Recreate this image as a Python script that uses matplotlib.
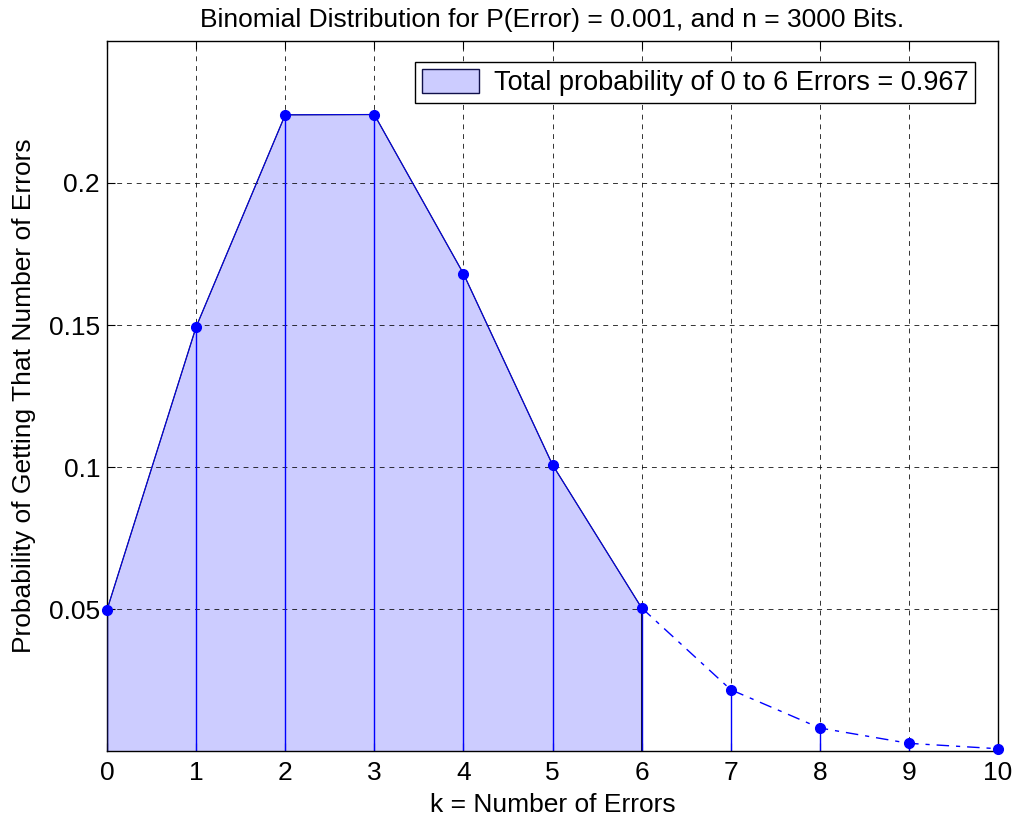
import matplotlib
matplotlib.use("Agg")
import matplotlib.pyplot as plt
from matplotlib.patches import Patch

plt.rcParams['font.family'] = ['Liberation Sans', 'DejaVu Sans']

k_vals = [0, 1, 2, 3, 4, 5, 6, 7, 8, 9, 10]
prob_vals = [0.0497, 0.1493, 0.2240, 0.2241, 0.1681, 0.1008, 0.0504, 0.0216, 0.0081, 0.0027, 0.0008]
shade_upto = 6
title_text = "Binomial Distribution for P(Error) = 0.001, and n = 3000 Bits."
legend_text = "Total probability of 0 to 6 Errors = 0.967"
xlabel_text = "k = Number of Errors"
ylabel_text = "Probability of Getting That Number of Errors"
y_ticks = [0.05, 0.1, 0.15, 0.2]
y_tick_labels = ["0.05", "0.1", "0.15", "0.2"]

fig = plt.figure(figsize=(10.13, 8.22), dpi=100)
ax = fig.add_axes([107/1013, 1-751/822, (998-107)/1013, (751-41)/822])

ks = k_vals[:shade_upto+1]
ps = prob_vals[:shade_upto+1]
ax.fill_between(ks, ps, 0, facecolor='#ccccff', edgecolor='none', zorder=1)
ax.plot([ks[0]] + ks + [ks[-1]], [0] + ps + [0], color='#10104a', lw=0.9, zorder=3)
ax.plot(ks, ps, color='blue', lw=0.6, zorder=3)
ax.vlines(k_vals, 0, prob_vals, colors='blue', lw=1.0, zorder=2)
ax.plot(k_vals[shade_upto:], prob_vals[shade_upto:], color='blue', lw=1.0,
        linestyle=(0, (9, 5, 3, 5)), zorder=3)
ax.plot(k_vals, prob_vals, 'o', color='blue', markersize=7, zorder=4, clip_on=False)

ax.set_xlim(0, 10)
ax.set_ylim(0, 0.25)
ax.set_xticks(k_vals)
ax.set_xticklabels([str(k) for k in k_vals])
ax.set_yticks(y_ticks)
ax.set_yticklabels(y_tick_labels)
ax.tick_params(direction='in', top=True, right=True, length=6, labelsize=19)
ax.tick_params(axis='x', pad=7)
ax.tick_params(axis='y', pad=5)
ax.grid(True, color='black', linestyle=(0, (5, 5)), lw=0.7, alpha=0.8)
for s in ax.spines.values():
    s.set_linewidth(1.0)

ax.set_title(title_text, fontsize=19, pad=10)
ax.set_xlabel(xlabel_text, fontsize=19)
ax.set_ylabel(ylabel_text, fontsize=19)
ax.xaxis.set_label_coords(0.5, -0.059)
ax.yaxis.set_label_coords(-0.08, 0.5)

leg = ax.legend(handles=[Patch(facecolor='#ccccff', edgecolor='#10104a', label=legend_text)],
                loc='upper right', bbox_to_anchor=((975-107)/891, (751-62)/710),
                borderaxespad=0, fontsize=19.5, fancybox=False, framealpha=1,
                edgecolor='black', borderpad=0.25, handlelength=2.1, handleheight=1.0,
                handletextpad=0.55)
leg.get_frame().set_linewidth(1.0)

fig.savefig("out.png", dpi=100)
